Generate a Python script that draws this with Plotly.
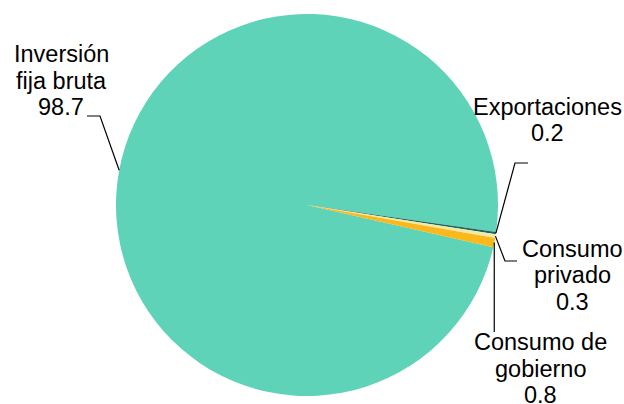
import math
import plotly.graph_objects as go

# ---- data ----
categories = ["Inversión fija bruta", "Exportaciones", "Consumo privado", "Consumo de gobierno"]
values = [98.7, 0.2, 0.3, 0.8]
value_labels = ["98.7", "0.2", "0.3", "0.8"]
label_lines = [["Inversión", "fija bruta"], ["Exportaciones"], ["Consumo", "privado"], ["Consumo de", "gobierno"]]
colors = ["#5fd3b8", "#1f6660", "#f3e9a6", "#fbb81a"]

W, H = 624, 404
CX, CY, R = 307, 205, 191
ROTATION = 102.8
FONT = dict(family="Liberation Sans, Arial, sans-serif", size=23.5, color="#000000")

# label layout (window pixel positions): text centre x, first baseline y, elbow point, end point
label_layout = [
    dict(tx=61, by=62, elbow=(100, 116), end=(87, 116)),
    dict(tx=547, by=115, elbow=(515, 163), end=(528, 163)),
    dict(tx=572, by=256.7, elbow=(505, 261), end=(517, 261)),
    dict(tx=540, by=350, elbow=(493, 300), end=(493, 332)),
]
LINE_GAP = 26.7


def px(x):
    return x / W


def py(y):
    return 1 - y / H


fig = go.Figure(go.Pie(
    labels=categories,
    values=values,
    sort=False,
    direction="clockwise",
    rotation=ROTATION,
    marker=dict(colors=colors, line=dict(width=0)),
    textinfo="none",
    hoverinfo="label+value",
    domain=dict(x=[px(CX - R), px(CX + R)], y=[py(CY + R), py(CY - R)]),
    showlegend=False,
))

total = sum(values)
annotations = []
shapes = []
cum = 0.0
for i, v in enumerate(values):
    mid = ROTATION + (cum + v / 2) / total * 360.0
    cum += v
    a = math.radians(mid)
    ex = CX + R * math.sin(a)
    ey = CY - R * math.cos(a)
    lay = label_layout[i]
    lines = label_lines[i] + [value_labels[i]]
    for k, t in enumerate(lines):
        base = lay["by"] + k * LINE_GAP
        annotations.append(dict(
            x=px(lay["tx"]), y=py(base - 8.2), xref="paper", yref="paper",
            text=t, showarrow=False, xanchor="center", yanchor="middle",
            font=FONT,
        ))
    elx, ely = lay["elbow"]
    enx, eny = lay["end"]
    if i == 3:
        elx = ex
        enx = ex
    path = f"M {px(ex)},{py(ey)} L {px(elx)},{py(ely)} L {px(enx)},{py(eny)}"
    shapes.append(dict(type="path", xref="paper", yref="paper", path=path,
                       line=dict(color="#000000", width=1.2)))

fig.update_layout(
    width=W, height=H,
    margin=dict(l=0, r=0, t=0, b=0),
    paper_bgcolor="white", plot_bgcolor="white",
    annotations=annotations,
    shapes=shapes,
)

fig.write_html(
    "out.html",
    config={"displayModeBar": False},
    post_script="document.body.style.margin='0px';document.body.style.overflow='hidden';",
)
